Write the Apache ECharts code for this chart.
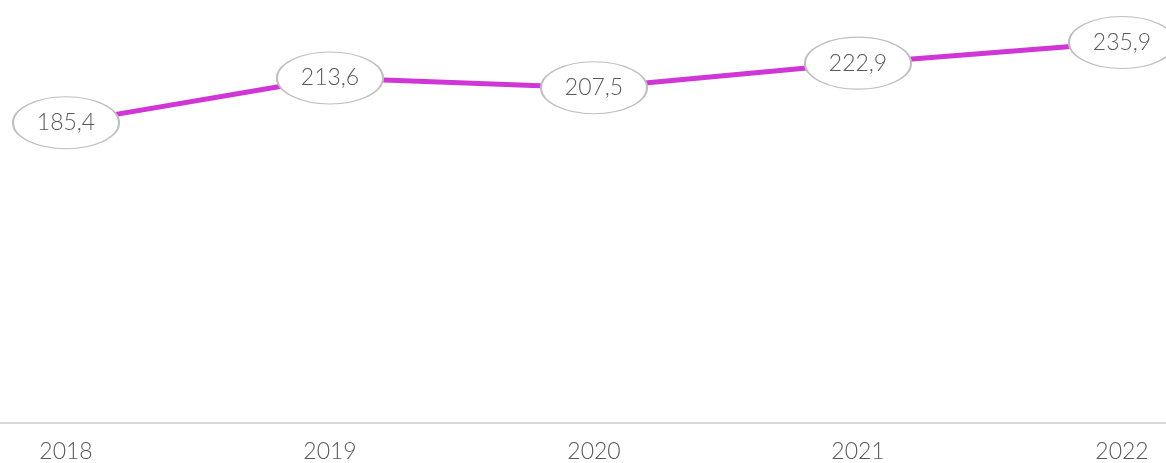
<!DOCTYPE html>
<html>
<head>
<meta charset="utf-8">
<style>
  html, body { margin: 0; padding: 0; background: #ffffff; }
  #chart { width: 1166px; height: 463px; }
</style>
<script src="https://cdn.jsdelivr.net/npm/echarts@6/dist/echarts.min.js"></script>
</head>
<body>
<div id="chart"></div>
<script>
// Yearly values, shown with a decimal comma
const years = ['2018', '2019', '2020', '2021', '2022'];
const values = [185.4, 213.6, 207.5, 222.9, 235.9];

const fontFamily = "'Lato', 'Noto Sans', sans-serif";
const textColor = '#595959';

// Elliptical bubble drawn around each value label
const ellipse = 'path://M0 25A50 25 0 1 1 100 25A50 25 0 1 1 0 25Z';

const chart = echarts.init(document.getElementById('chart'), null, { renderer: 'canvas' });

chart.setOption({
  animation: false,
  backgroundColor: '#ffffff',
  grid: [
    // plot area: first and last year sit 66px / 44px from the edges
    { left: 66, right: 44, top: 20, bottom: 40, containLabel: false },
    // full-width baseline
    { left: 0, right: 0, top: 20, bottom: 40, containLabel: false }
  ],
  xAxis: [{
    type: 'category',
    gridIndex: 0,
    data: years,
    boundaryGap: false,
    axisLine: { show: false },
    axisTick: { show: false },
    axisLabel: {
      color: textColor,
      fontFamily: fontFamily,
      fontWeight: 300,
      fontSize: 23,
      margin: 22
    }
  }, {
    type: 'category',
    gridIndex: 1,
    data: years,
    axisLine: { show: true, lineStyle: { color: '#d9d9d9', width: 2 } },
    axisTick: { show: false },
    axisLabel: { show: false }
  }],
  yAxis: [{
    type: 'value',
    gridIndex: 0,
    min: 0,
    max: 250,
    show: false
  }, {
    type: 'value',
    gridIndex: 1,
    min: 0,
    max: 250,
    show: false
  }],
  series: [{
    type: 'line',
    xAxisIndex: 0,
    yAxisIndex: 0,
    data: values,
    lineStyle: { color: '#d035d6', width: 5 },
    itemStyle: { color: '#ffffff', borderColor: '#bfbfbf', borderWidth: 1.5 },
    symbol: ellipse,
    symbolSize: [106, 52],
    showAllSymbol: true,
    label: {
      show: true,
      position: 'inside',
      color: textColor,
      fontFamily: fontFamily,
      fontWeight: 300,
      fontSize: 23,
      formatter: p => p.value.toFixed(1).replace('.', ',')
    },
    z: 3
  }]
});
</script>
</body>
</html>
